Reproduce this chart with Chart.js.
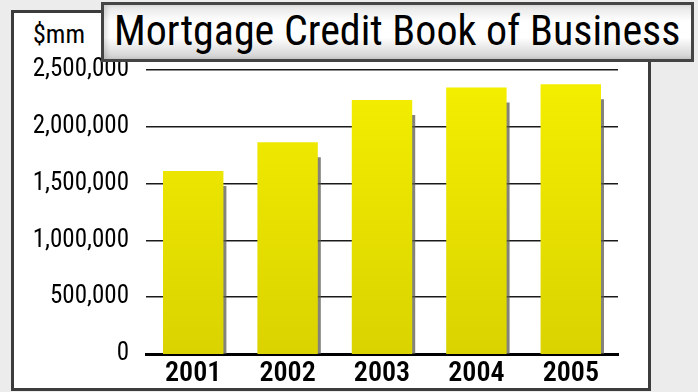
<!DOCTYPE html>
<html>
<head>
<meta charset="utf-8">
<script src="https://cdn.jsdelivr.net/npm/chart.js@4/dist/chart.umd.min.js"></script>
<style>
  html, body { margin: 0; padding: 0; }
  body { width: 698px; height: 392px; position: relative; overflow: hidden; background: #ececec;
         font-family: 'Roboto Condensed', 'Roboto', sans-serif; font-stretch: condensed; }
  #panel { position: absolute; left: 11px; top: 10px; width: 634px; height: 375px;
           border: 3px solid #3c3c3c; background: #fff; }
  #unit { position: absolute; left: 33px; top: 21px; font-size: 26px; color: #000; line-height: 1; }
  #titlebox { position: absolute; left: 101px; top: 2px; width: 587px; height: 54px;
              border: 3px solid #444; z-index: 3;
              background: linear-gradient(to bottom, #e4e4e4 0%, #ffffff 30%, #ffffff 60%, #cfcfcf 100%);
              box-shadow: inset 3px 0 4px rgba(0,0,0,0.12); }
  #title { position: absolute; left: 10px; top: 3px; font-size: 42px; line-height: 1.1; color: #000;
           white-space: nowrap; }
  #wrap { position: absolute; left: 0; top: 0; width: 698px; height: 392px; z-index: 2; }
</style>
</head>
<body>
<div id="panel"></div>
<div id="unit">$mm</div>
<div id="titlebox"><div id="title">Mortgage Credit Book of Business</div></div>
<div id="wrap"><canvas id="c" width="698" height="392"></canvas></div>
<script>
const categories = ['2001', '2002', '2003', '2004', '2005'];
const bookOfBusiness = [1610000, 1865000, 2235000, 2345000, 2375000];
const yTicks = [0, 500000, 1000000, 1500000, 2000000, 2500000];

const FONT = "'Roboto Condensed', 'Roboto', sans-serif";

const shadowPlugin = {
  id: 'barShadow',
  beforeDatasetDraw(chart) {
    const ctx = chart.ctx;
    ctx.save();
    ctx.shadowColor = 'rgba(90,90,80,0.75)';
    ctx.shadowOffsetX = 3;
    ctx.shadowOffsetY = 15;
    ctx.shadowBlur = 0;
  },
  afterDatasetDraw(chart) {
    chart.ctx.restore();
  }
};

new Chart(document.getElementById('c'), {
  type: 'bar',
  data: {
    labels: categories,
    datasets: [{
      data: bookOfBusiness,
      backgroundColor(context) {
        const area = context.chart.chartArea;
        if (!area) return '#e8e200';
        const g = context.chart.ctx.createLinearGradient(0, area.top, 0, area.bottom);
        g.addColorStop(0, '#f5ef00');
        g.addColorStop(1, '#dad300');
        return g;
      },
      borderWidth: 0,
      barPercentage: 0.64,
      categoryPercentage: 1
    }]
  },
  options: {
    responsive: false,
    animation: false,
    layout: { padding: { left: 0, right: 80, top: 70, bottom: 0 } },
    plugins: { legend: { display: false }, tooltip: { enabled: false } },
    scales: {
      x: {
        grid: { display: false, drawTicks: false },
        border: { display: true, color: '#000', width: 3 },
        ticks: { color: '#000', padding: 3, font: { family: FONT, size: 28, weight: '600 condensed' } },
        afterFit(scale) { scale.height = 38; }
      },
      y: {
        min: 0, max: 2500000,
        afterBuildTicks(scale) { scale.ticks = yTicks.map(v => ({ value: v })); },
        grid: {
          drawTicks: false,
          color: '#1a1a1a',
          lineWidth(ctx) { return ctx.tick && ctx.tick.value === 0 ? 0 : 1.5; }
        },
        border: { display: false },
        ticks: {
          color: '#000', padding: 17,
          font: { family: FONT, size: 25, weight: 'normal condensed' },
          callback(v) { return Number(v).toLocaleString('en-US'); }
        },
        afterFit(scale) { scale.width = 146; }
      }
    }
  },
  plugins: [shadowPlugin]
});
</script>
</body>
</html>
